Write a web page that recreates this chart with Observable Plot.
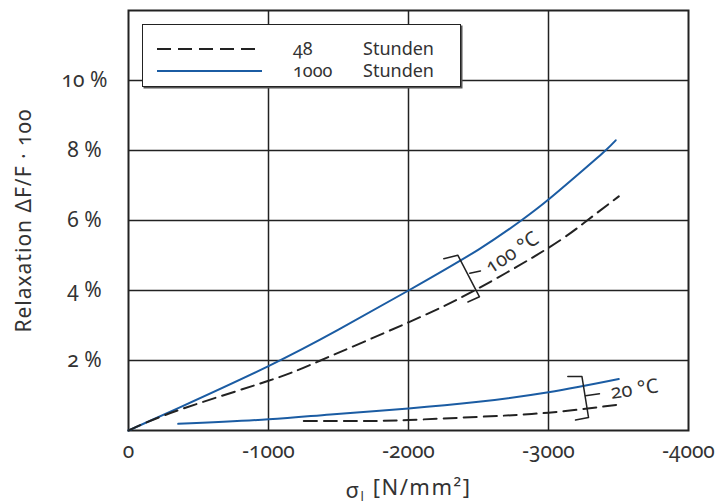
<!DOCTYPE html>
<html>
<head>
<meta charset="utf-8">
<script src="https://cdn.jsdelivr.net/npm/d3@7"></script>
<script src="https://cdn.jsdelivr.net/npm/@observablehq/plot@0.6"></script>
<style>
  html, body { margin: 0; padding: 0; background: #fff; }
  #wrap { position: relative; width: 725px; height: 504px; font-family: "Noto Sans", sans-serif; }
  #wrap svg, #wrap svg text, #wrap svg tspan { font-variant-numeric: oldstyle-nums !important; font-feature-settings: "onum" 1 !important; }
  #legend { position: absolute; left: 142px; top: 24px; width: 317px; height: 61px; background: #fff;
            border: 1.5px solid #222; box-shadow: 1.5px 1.5px 0 #555; }
  #legend svg { position: absolute; left: 0; top: 0; }
</style>
</head>
<body>
<div id="wrap"></div>
<script>
// ---- data ----
const xTicks = [0, -1000, -2000, -3000, -4000];
const xGrid = [-1000, -2000, -3000];
const yTicks = [2, 4, 6, 8, 10];
const xLabel = "σl [N/mm²]";
const yLabel = "Relaxation ΔF/F · 100";

// 100 °C, 1000 Stunden (solid)
const s100_1000 = [0, -371, -1000, -1500, -2000, -2500, -2805, -3000, -3250, -3407, -3480];
const r100_1000 = [0, 0.67, 1.84, 2.88, 4.0, 5.17, 6.0, 6.6, 7.45, 8.0, 8.29];
// 100 °C, 48 Stunden (dashed)
const s100_48 = [0, -371, -1000, -1371, -2000, -2480, -3000, -3276, -3502];
const r100_48 = [0, 0.6, 1.42, 2.0, 3.09, 4.02, 5.22, 6.0, 6.69];
// 20 °C, 1000 Stunden (solid)
const s20_1000 = [-355, -1000, -1443, -2000, -2500, -3000, -3502];
const r20_1000 = [0.19, 0.32, 0.46, 0.63, 0.82, 1.09, 1.47];
// 20 °C, 48 Stunden (dashed)
const s20_48 = [-1252, -1657, -2000, -2500, -3000, -3502];
const r20_48 = [0.27, 0.27, 0.30, 0.39, 0.51, 0.74];

// annotation brackets (data coordinates)
const br100X = [-2252, -2352, -2507, -2424];
const br100Y = [4.91, 5.01, 3.82, 3.67];
const br100MidX = [-2438, -2514];
const br100MidY = [4.49, 4.56];
const br20X = [-3138, -3239, -3286, -3193];
const br20Y = [1.54, 1.54, 0.37, 0.30];
const br20MidX = [-3264, -3364];
const br20MidY = [0.99, 1.05];
const labels = [
  {x: -2740, y: 5.08, text: "100 °C", rotate: -33},
  {x: -3614, y: 1.18, text: "20 °C", rotate: -8}
];

const legendItems = [
  {hours: "48", unit: "Stunden", dash: true},
  {hours: "1000", unit: "Stunden", dash: false}
];

// ---- build tables ----
const toRows = (xs, ys) => xs.map((x, i) => ({x, y: ys[i]}));
const BLUE = "#1b5ca3";
const INK = "#222";

const chart = Plot.plot({
  width: 725,
  height: 504,
  marginLeft: 128,
  marginRight: 37,
  marginTop: 10,
  marginBottom: 74,
  x: {domain: [0, -4000]},
  y: {domain: [0, 12]},
  style: {fontFamily: "Noto Sans", color: "#333", background: "white"},
  marks: [
    Plot.gridX(xGrid, {stroke: INK, strokeOpacity: 1, strokeWidth: 1.5}),
    Plot.gridY(yTicks, {stroke: INK, strokeOpacity: 1, strokeWidth: 1.5}),
    Plot.frame({stroke: INK, strokeWidth: 2}),
    Plot.axisX(xTicks, {tickSize: 0, tickPadding: 13, tickFormat: d => String(d), fontSize: 21, label: null}),
    Plot.axisY(yTicks, {tickSize: 0, tickPadding: 44, textAnchor: "middle", tickFormat: d => d + " %", fontSize: 21, label: null}),
    Plot.line(toRows(s100_1000, r100_1000), {x: "x", y: "y", stroke: BLUE, strokeWidth: 2, curve: "natural"}),
    Plot.line(toRows(s100_48, r100_48), {x: "x", y: "y", stroke: INK, strokeWidth: 2, strokeDasharray: "13,7", curve: "natural"}),
    Plot.line(toRows(s20_1000, r20_1000), {x: "x", y: "y", stroke: BLUE, strokeWidth: 2, curve: "natural"}),
    Plot.line(toRows(s20_48, r20_48), {x: "x", y: "y", stroke: INK, strokeWidth: 2, strokeDasharray: "13,7", curve: "natural"}),
    Plot.line(toRows(br100X, br100Y), {x: "x", y: "y", stroke: INK, strokeWidth: 1.5}),
    Plot.line(toRows(br100MidX, br100MidY), {x: "x", y: "y", stroke: INK, strokeWidth: 1.5}),
    Plot.line(toRows(br20X, br20Y), {x: "x", y: "y", stroke: INK, strokeWidth: 1.5}),
    Plot.line(toRows(br20MidX, br20MidY), {x: "x", y: "y", stroke: INK, strokeWidth: 1.5}),
    Plot.text(labels, {x: "x", y: "y", text: "text", rotate: "rotate", fontSize: 20, fill: "#333"}),
    Plot.text([yLabel], {frameAnchor: "left", dx: -104, rotate: -90, textAnchor: "middle", lineAnchor: "middle", fontSize: 21, fill: "#333"}),
    Plot.text([xLabel], {frameAnchor: "bottom", dy: 60, textAnchor: "middle", lineAnchor: "middle", fontSize: 22, fill: "#333"})
  ]
});

// letter spacing for the axis titles
d3.select(chart).selectAll("text").filter(function() { return this.textContent === yLabel; })
  .style("letter-spacing", "1px");

// subscript in x label
d3.select(chart).selectAll("text").filter(function() { return this.textContent === xLabel; })
  .style("letter-spacing", "1.5px")
  .each(function() {
    const t = d3.select(this);
    t.text(null);
    t.append("tspan").text("σ");
    t.append("tspan").attr("dy", "0.3em").attr("font-size", "13").text("l");
    t.append("tspan").attr("dy", "-0.3em").text(" [N/mm²]");
  });

const wrap = document.getElementById("wrap");
wrap.appendChild(chart);

// legend overlay
const leg = document.createElement("div");
leg.id = "legend";
wrap.appendChild(leg);
const ls = d3.select(leg).append("svg").attr("width", 317).attr("height", 61)
  .style("font-family", "Noto Sans");
legendItems.forEach((d, i) => {
  const cy = 24 + i * 22;
  ls.append("line").attr("x1", 14).attr("x2", 119).attr("y1", cy).attr("y2", cy)
    .attr("stroke", d.dash ? INK : BLUE).attr("stroke-width", 2)
    .attr("stroke-dasharray", d.dash ? "14,7" : null);
  ls.append("text").attr("x", 150).attr("y", cy).attr("dy", "0.35em")
    .attr("font-size", 18).attr("fill", "#333").text(d.hours);
  ls.append("text").attr("x", 220).attr("y", cy).attr("dy", "0.35em")
    .attr("font-size", 18).attr("fill", "#333").text(d.unit);
});
</script>
</body>
</html>
